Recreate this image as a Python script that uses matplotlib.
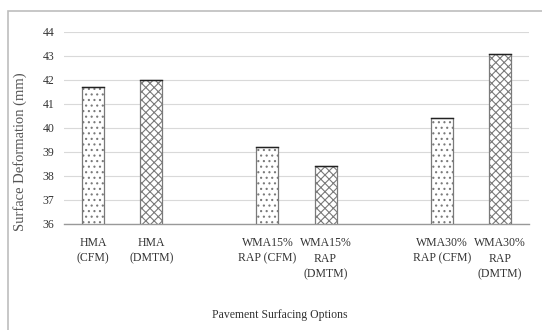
import matplotlib.pyplot as plt
from matplotlib.patches import Rectangle
import numpy as np

labels = ["HMA\n(CFM)", "HMA\n(DMTM)", "", "WMA15%\nRAP (CFM)", "WMA15%\nRAP\n(DMTM)",
          "", "WMA30%\nRAP (CFM)", "WMA30%\nRAP\n(DMTM)"]
values = [41.7, 42.0, None, 39.2, 38.4, None, 40.4, 43.1]
hatches = ["...", "xxxx", None, "...", "xxxx", None, "...", "xxxx"]

plt.rcParams['font.family'] = ['Liberation Serif', 'DejaVu Serif']
plt.rcParams['hatch.linewidth'] = 0.8
plt.rcParams['hatch.color'] = '#555555'
plt.rcParams['text.color'] = '#333333'
plt.rcParams['xtick.color'] = '#333333'
plt.rcParams['ytick.color'] = '#333333'
plt.rcParams['axes.labelcolor'] = '#555555'

W, H = 542, 330
fig = plt.figure(figsize=(W / 100, H / 100), dpi=100)
ax = fig.add_axes([64 / W, 1 - 224 / H, 465 / W, 192 / H])

# outer chart frame
fig.patches.append(Rectangle((8 / W, -0.1), 1.0, 1 - 11 / H + 0.1,
                             transform=fig.transFigure, fill=False,
                             edgecolor='#bdbdbd', linewidth=1.2))

x = np.arange(len(labels))
for i, v in enumerate(values):
    if v is None:
        continue
    ax.bar(x[i], v - 36, bottom=36, width=0.38, color='white',
           edgecolor='#7a7a7a', linewidth=0.9, hatch=hatches[i], zorder=3)
    ax.plot([x[i] - 0.19, x[i] + 0.19], [v, v], color='#222222', lw=1.0, zorder=4)

ax.set_xlim(-0.5, len(labels) - 0.5)
ax.set_ylim(36, 44)
ax.set_yticks(range(36, 45))
ax.set_xticks(x)
ax.set_xticklabels(labels, fontsize=8.5, linespacing=1.45)
ax.tick_params(axis='y', labelsize=8.5, length=0, pad=7)
ax.tick_params(axis='x', length=0, pad=9)
ax.grid(axis='y', color='#d9d9d9', linewidth=0.8, zorder=0)
for s in ['top', 'right', 'left']:
    ax.spines[s].set_visible(False)
ax.spines['bottom'].set_color('#999999')
ax.spines['bottom'].set_linewidth(1.0)

ax.set_ylabel("Surface Deformation (mm)", fontsize=10.5)
ax.yaxis.set_label_coords(-(64 - 27) / 465, (224 - 152) / 192)
fig.text(280 / W, 1 - 315 / H, "Pavement Surfacing Options", fontsize=8.5,
         ha='center', va='center')

fig.savefig("out.png", dpi=100)
